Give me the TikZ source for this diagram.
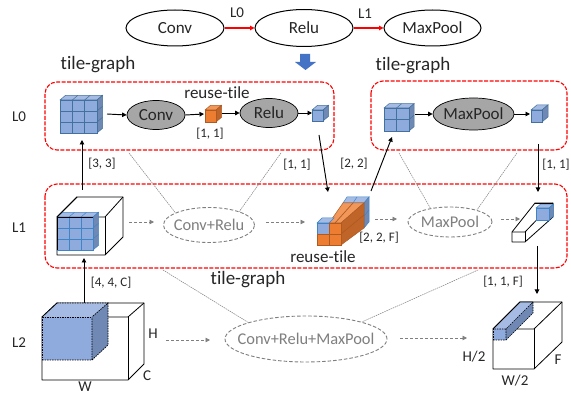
\documentclass[tikz,border=0pt]{standalone}
\usepackage{fontspec}
\setmainfont{Carlito}[Ligatures=NoCommon]
\usetikzlibrary{arrows.meta,shapes.geometric,calc}
\definecolor{ink}{HTML}{262626}
\definecolor{gr}{HTML}{7F7F7F}
\definecolor{bf}{HTML}{8FAADC}
\definecolor{bt}{HTML}{A5BBE4}
\definecolor{bs}{HTML}{6F88B4}
\definecolor{bl}{HTML}{41719C}
\definecolor{bm}{HTML}{3F85C6}
\definecolor{of}{HTML}{ED7D31}
\definecolor{ot}{HTML}{F1975A}
\definecolor{os}{HTML}{C0652A}
\definecolor{ol}{HTML}{AE5A21}
\definecolor{bigblue}{HTML}{4472C4}
\tikzset{
  x=1pt,y=-1pt,
  lab/.style={font=\fontsize{13}{15}\selectfont,text=ink,inner sep=0},
  lev/.style={font=\fontsize{15}{17}\selectfont,text=ink,inner sep=0},
  big/.style={font=\fontsize{19}{22}\selectfont,text=ink,inner sep=0},
  mid/.style={font=\fontsize{17}{19}\selectfont,text=ink,inner sep=0},
  optext/.style={font=\fontsize{17}{19}\selectfont,text=ink,inner sep=0},
  optextg/.style={font=\fontsize{16.4}{19}\selectfont,text=gr,inner sep=0},
  opw/.style={ellipse,draw=black,line width=1pt,fill=white,inner sep=0,label={[optext]center:#1}},
  opg/.style={ellipse,draw=black,line width=0.7pt,fill=black!35,inner sep=0,label={[optext]center:#1}},
  opd/.style={ellipse,draw=gr,dash pattern=on 3.5pt off 2pt,line width=0.9pt,inner sep=0,label={[optextg]center:#1}},
  arr/.style={-{Triangle[length=4.5pt,width=4.5pt]},line width=0.95pt,black},
  redarr/.style={-{Triangle[length=4.5pt,width=4.5pt]},line width=1.1pt,red},
  darr/.style={-{Triangle[length=4.5pt,width=4.5pt]},line width=0.8pt,gr,dash pattern=on 3pt off 2pt},
  thingray/.style={line width=0.5pt,gr,dash pattern=on 1.5pt off 0.8pt},
  tile/.style={draw=red,line width=1.1pt,dash pattern=on 4pt off 1.5pt,rounded corners=12pt},
  wire/.style={draw=black,line width=0.8pt,line join=round},
  dwire/.style={draw=black,line width=0.7pt,dash pattern=on 1.5pt off 1pt},
}
\newcommand{\cubegrid}[9]{%
  % #1 x0, #2 y0, #3 w, #4 h, #5 nx, #6 ny, #7 depth, #8 colour prefix, #9 line
  \path[fill=#8t,draw=#9,line width=0.5pt] (#1,#2) -- ++(#7,-#7*0.85) -- ++(#3,0) -- ++(-#7,#7*0.85) -- cycle;
  \path[fill=#8s,draw=#9,line width=0.5pt] (#1+#3,#2) -- ++(#7,-#7*0.85) -- ++(0,#4) -- ++(-#7,#7*0.85) -- cycle;
  \path[fill=#8f,draw=#9,line width=0.7pt] (#1,#2) rectangle ++(#3,#4);
  \foreach \ii in {1,...,#5}{%
    \ifnum\ii<#5\relax
      \draw[#9,line width=0.7pt] ({#1+#3*\ii/#5},#2) -- ++(0,#4);
      \draw[#9,line width=0.5pt] ({#1+#3*\ii/#5},#2) -- ++(#7,-#7*0.85);
    \fi}%
  \foreach \jj in {1,...,#6}{%
    \ifnum\jj<#6\relax
      \draw[#9,line width=0.7pt] (#1,{#2+#4*\jj/#6}) -- ++(#3,0);
      \draw[#9,line width=0.5pt] (#1+#3,{#2+#4*\jj/#6}) -- ++(#7,-#7*0.85);
    \fi}%
}
\begin{document}
\begin{tikzpicture}
\useasboundingbox (0,0) rectangle (571,395);
\fill[white] (0,0) rectangle (571,395);

% top chain
\node[opw=Conv,minimum width=98pt,minimum height=36pt] (conv0) at (175,28) {};
\node[opw=Relu,minimum width=98pt,minimum height=37pt] (relu0) at (304,28) {};
\node[opw=MaxPool,minimum width=97pt,minimum height=36pt] (pool0) at (432.5,28) {};
\draw[redarr] (conv0.east) -- (relu0.west);
\draw[redarr] (relu0.east) -- (pool0.west);
\node[lev] (tl0) at (237,13) {L0};
\node[lev] (tl1) at (365,14) {L1};
\fill[bigblue] (300,54) -- (310,54) -- (310,62) -- (316,62) -- (305.5,70) -- (295,62) -- (300,62) -- cycle;

% tile graph boxes
\draw[tile] (45,82) rectangle (334,150);
\draw[tile] (371,81) rectangle (567,150);
\draw[tile] (45,184) rectangle (567,268);
\node[big] (tg1) at (98,65) {tile-graph};
\node[big] (tg2) at (413,66) {tile-graph};
\node[big] (tg3) at (248,280) {tile-graph};

% level labels
\node[lev] (l0) at (19,117) {L0};
\node[lev] (l1) at (19,228) {L1};
\node[lev] (l2) at (19,343) {L2};

% thin gray links
\coordinate (g1) at (129,153);
\coordinate (g2) at (281,153);
\coordinate (g3) at (399,153);
\coordinate (g4) at (517,153);
\coordinate (g5) at (163,270);
\coordinate (g6) at (478,270);

% L0 row
\cubegrid{60}{100}{37}{33}{3}{3}{5.5}{b}{bl}
\node[opg=Conv,minimum width=58pt,minimum height=29pt] (conv1) at (156,115) {};
\cubegrid{205}{110}{11}{12}{1}{1}{5.5}{o}{ol}
\node[opg=Relu,minimum width=58pt,minimum height=29pt] (relu1) at (269,113) {};
\cubegrid{312}{110}{11}{11}{1}{1}{5.5}{b}{bl}
\cubegrid{384}{108}{25}{23}{2}{2}{5}{b}{bl}
\node[opg=MaxPool,minimum width=81pt,minimum height=32pt] (pool1) at (473.5,114) {};
\cubegrid{531}{110}{11}{12}{1}{1}{6}{b}{bl}
\coordinate (a1) at (107,114);
\coordinate (a2) at (204,114);
\coordinate (a3) at (222,113);
\coordinate (a4) at (312,113);
\coordinate (a5) at (415,114);
\coordinate (a6) at (530,114);
\draw[arr] (a1) -- (conv1.west);
\draw[arr] (conv1.east) -- (a2);
\draw[arr] (a3) -- (relu1.west);
\draw[arr] (relu1.east) -- (a4);
\draw[arr] (a5) -- (pool1.west);
\draw[arr] (pool1.east) -- (a6);
\node[mid] (rt1) at (217,93) {reuse-tile};
\node[lab] (t11) at (210,134) {[1, 1]};

% L1 row: big box with grid cube
\draw[wire,fill=white] (57,217) -- (77,197) -- (123,197) -- (123,237) -- (105,255) -- (57,255) -- cycle;
\draw[wire] (57,217) -- (105,217) -- (123,197);
\draw[wire] (105,217) -- (105,255);
\cubegrid{57}{217}{36}{33}{3}{3}{5.5}{b}{bm}
\draw[black,line width=0.9pt] (57,250) -- (57,217) -- (93,217);
\draw[wire] (57,217) -- (77,197);

\node[opd=Conv+Relu,minimum width=91pt,minimum height=35pt] (cr) at (209,225) {};
\draw[thingray] (g1) -- (cr.160);
\draw[thingray] (g2) -- (cr.24);

% orange block
\path[fill=bt,draw=bm,line width=0.5pt] (343,203) -- (347,197) -- (369,197) -- (364,203) -- cycle;
\path[fill=bs,draw=bm,line width=0.5pt] (364,203) -- (369,197) -- (369,222) -- (364,228) -- cycle;
\draw[bm,line width=0.5pt] (357,197) -- (353,203);
\draw[bm,line width=0.5pt] (364,216) -- (369,210);
\path[fill=ot,draw=ol,line width=0.5pt] (329,223) -- (343,203) -- (364,203) -- (341,223) -- cycle;
\draw[ol,line width=0.7pt] (335,223) -- (353,203);
\path[fill=os,draw=ol,line width=0.5pt] (341,223) -- (364,203) -- (364,228) -- (341,245) -- cycle;
\draw[ol,line width=0.7pt] (341,234) -- (364,215);
\path[fill=bt,draw=bm,line width=0.5pt] (317,223) -- (322,218) -- (334,218) -- (329,223) -- cycle;
\path[fill=bf,draw=bm,line width=0.5pt] (317,223) rectangle (329,234);
\path[fill=of,draw=ol,line width=0.6pt] (329,223) rectangle (341,234);
\path[fill=of,draw=ol,line width=0.6pt] (317,234) rectangle (329,245);
\path[fill=of,draw=ol,line width=0.6pt] (329,234) rectangle (341,245);
\node[mid] (rt2) at (323,257) {reuse-tile};
\node[lab] (t22f) at (379,238) {[2, 2, F]};

\node[opd=MaxPool,minimum width=84pt,minimum height=30pt] (mp) at (450,222) {};
\draw[thingray] (g3) -- (mp.145);
\draw[thingray] (g4) -- (mp.24);

% thin box
\draw[wire,fill=white] (512,232) -- (535,203) -- (553,203) -- (553,217) -- (525,242) -- (512,242) -- cycle;
\draw[wire] (512,232) -- (525,232) -- (553,203);
\draw[wire] (525,232) -- (525,242);
\cubegrid{536}{208}{13}{12}{1}{1}{4.5}{b}{bm}
\draw[wire] (535,203) -- (553,203);

\coordinate (d1) at (129,222); \coordinate (d2) at (154,222);
\coordinate (d3) at (266,222); \coordinate (d4) at (305,222);
\coordinate (d5) at (375,219); \coordinate (d6) at (397,219);
\coordinate (d7) at (501,219); \coordinate (d8) at (520,219);
\draw[darr] (d1) -- (d2);
\draw[darr] (d3) -- (d4);
\draw[darr] (d5) -- (d6);
\draw[darr] (d7) -- (d8);

% L2 row: left box
\draw[wire,fill=white] (42,317) -- (57,303) -- (144,303) -- (144,364) -- (128,380) -- (42,380) -- cycle;
\draw[wire] (42,317) -- (128,317) -- (144,303);
\draw[wire] (128,317) -- (128,380);
\path[fill=bt] (42,317) -- (57,303) -- (108,303) -- (92,317) -- cycle;
\path[fill=bs] (92,317) -- (108,303) -- (108,345) -- (92,360) -- cycle;
\path[fill=bf] (42,317) rectangle (92,360);
\draw[dwire] (42,360) -- (92,360) -- (92,317) (92,360) -- (108,345) -- (108,303) -- (92,317) (57,303) -- (108,303);
\draw[dwire] (42,317) -- (92,317);
\draw[dwire] (42,317) -- (42,360);
\draw[wire] (42,317) -- (57,303);

\node[opd=Conv+Relu+MaxPool,minimum width=162pt,minimum height=46pt] (crm) at (306,339) {};
\draw[thingray] (g5) -- (crm.164);
\draw[thingray] (g6) -- (crm.17);
\coordinate (d9) at (166,340); \coordinate (d10) at (210,340);
\coordinate (d11) at (400,338); \coordinate (d12) at (467,338);
\draw[darr] (d9) -- (d10);
\draw[darr] (d11) -- (d12);
\node[lev] (h) at (153,334) {H};
\node[lev] (c) at (147,376) {C};
\node[lev] (w) at (85,386.5) {W};

% L2 row: right box
\draw[wire,fill=white] (493,329) -- (520,302) -- (562,302) -- (562,342) -- (534,369) -- (493,369) -- cycle;
\draw[wire] (493,329) -- (534,329) -- (562,302);
\draw[wire] (534,329) -- (534,369);
\path[fill=bt] (493,329) -- (520,302) -- (533,302) -- (506,329) -- cycle;
\path[fill=bs] (506,329) -- (533,302) -- (533,313) -- (506,340) -- cycle;
\path[fill=bf] (493,329) rectangle (506,340);
\draw[dwire] (493,340) -- (506,340) -- (506,329) (506,340) -- (533,313) -- (533,302) -- (506,329) -- (493,329);
\draw[dwire] (493,329) -- (493,340);
\draw[wire] (493,329) -- (520,302) -- (533,302);
\node[lev] (h2) at (474,357) {H/2};
\node[lev] (f) at (558,360) {F};
\node[lev] (w2) at (515,381) {W/2};

% vertical connectors between levels
\coordinate (v1a) at (82,190); \coordinate (v1b) at (82,140);
\coordinate (v2a) at (319,135); \coordinate (v2b) at (328,192);
\coordinate (v3a) at (371,191); \coordinate (v3b) at (392,137);
\coordinate (v4a) at (538,144); \coordinate (v4b) at (538,192);
\coordinate (v5a) at (84,303); \coordinate (v5b) at (84,258);
\coordinate (v6a) at (537,246); \coordinate (v6b) at (537,294);
\draw[arr] (v1a) -- (v1b);
\draw[arr] (v2a) -- (v2b);
\draw[arr] (v3a) -- (v3b);
\draw[arr] (v4a) -- (v4b);
\draw[arr] (v5a) -- (v5b);
\draw[arr] (v6a) -- (v6b);
\node[lab] (t33) at (102,164) {[3, 3]};
\node[lab] (t11b) at (297,165) {[1, 1]};
\node[lab] (t22) at (354,164) {[2, 2]};
\node[lab] (t11c) at (556,165) {[1, 1]};
\node[lab] (t44c) at (111,283) {[4, 4, C]};
\node[lab] (t11f) at (503,282) {[1, 1, F]};
\end{tikzpicture}
\end{document}
